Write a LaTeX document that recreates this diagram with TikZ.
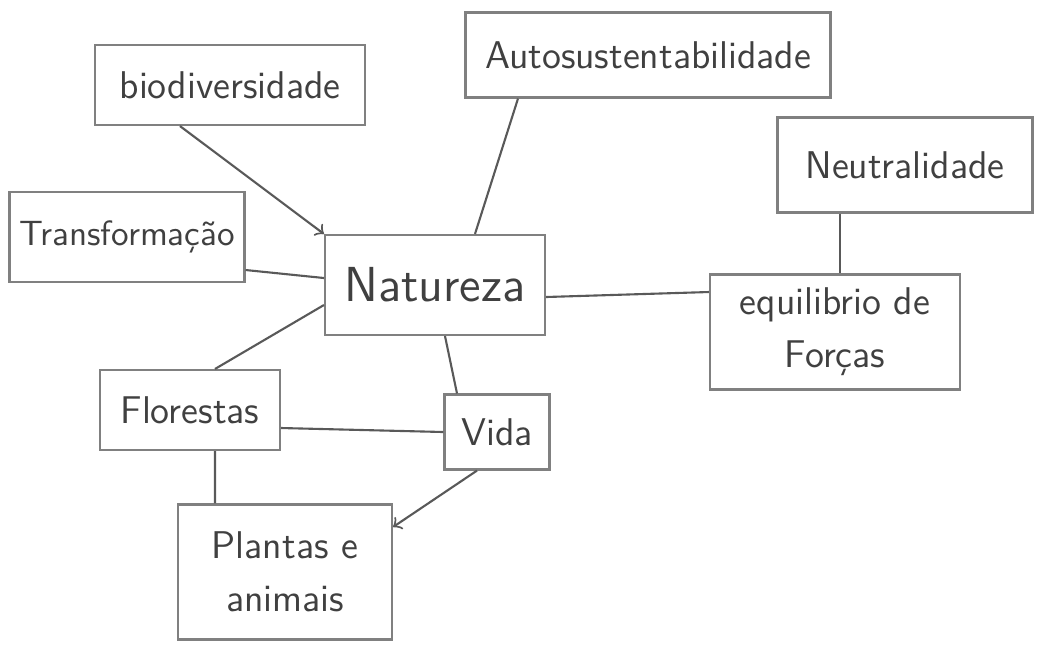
\documentclass[tikz,border=0pt]{standalone}
\usepackage{tikz}

\begin{document}
\begin{tikzpicture}[every node/.style={draw=black!50, semithick, align=center, inner sep=2pt,
      text=black!75, font=\sffamily\fontsize{11}{15}\selectfont},
    link/.style={draw=black!65, semithick}]
    \useasboundingbox (0,0) rectangle (10.39,-6.57);

      \node[minimum width=2.70cm, minimum height=0.80cm] (bio) at (2.30,-0.85) {biodiversidade};
      \node[minimum width=3.65cm, minimum height=0.85cm] (auto) at (6.48,-0.55) {Autosustentabilidade};
      \node[minimum width=2.55cm, minimum height=0.95cm] (neut) at (9.05,-1.65) {Neutralidade};
      \node[minimum width=2.35cm, minimum height=0.90cm, font=\sffamily\fontsize{10}{12}\selectfont] (trans) at (1.27,-2.37) {Transformação};
      \node[minimum width=2.20cm, minimum height=1.00cm, font=\sffamily\fontsize{14}{16}\selectfont] (nat) at (4.35,-2.85) {Natureza};
      \node[minimum width=2.50cm, minimum height=1.15cm] (equil) at (8.35,-3.32) {equilibrio de\\Forças};
      \node[minimum width=1.80cm, minimum height=0.80cm] (flor) at (1.90,-4.10) {Florestas};
      \node[minimum width=1.05cm, minimum height=0.75cm] (vida) at (4.97,-4.32) {Vida};
      \node[minimum width=2.14cm, minimum height=1.35cm] (plant) at (2.85,-5.72) {Plantas e\\animais};

      % ligacoes
      \draw[link, ->] ([xshift=-5mm]bio.south) -- (nat.north west);
      \draw[link] ([xshift=-1.3cm]auto.south) -- ([xshift=0.4cm]nat.north);
      \draw[link] ([yshift=-0.33cm]trans.east) -- ([yshift=0.07cm]nat.west);
      \draw[link] ([yshift=-0.12cm]nat.east) -- ([yshift=0.4cm]equil.west);
      \draw[link] ([xshift=-0.65cm]neut.south) -- ([xshift=0.05cm]equil.north);
      \draw[link] ([yshift=-0.2cm]nat.west) -- ([xshift=0.25cm]flor.north);
      \draw[link] ([xshift=0.1cm]nat.south) -- ([xshift=-0.4cm]vida.north);
      \draw[link] ([yshift=-0.18cm]flor.east) -- (vida.west);
      \draw[link] ([xshift=0.25cm]flor.south) -- ([xshift=-0.7cm]plant.north);
      \draw[link, ->] ([xshift=-0.2cm]vida.south) -- ([yshift=0.45cm]plant.east);

    \end{tikzpicture}
\end{document}
